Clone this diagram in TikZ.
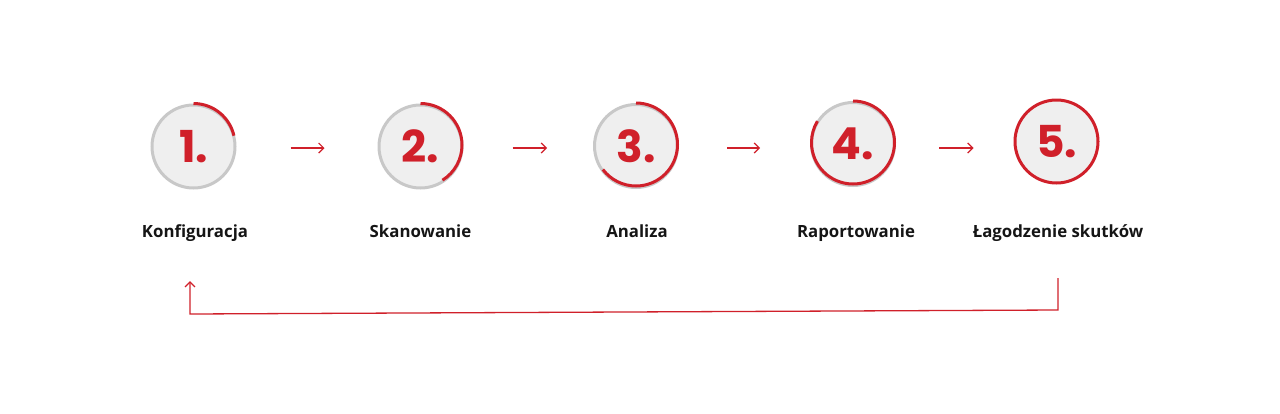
\documentclass[tikz,border=0pt]{standalone}
\usepackage{fontspec}
\setmainfont{Open Sans}
\newfontfamily\numfont{Poppins}[BoldFont=* Bold]
\usetikzlibrary{arrows.meta,calc}
\definecolor{accred}{HTML}{D0202A}
\definecolor{ringgray}{HTML}{C8C8C8}
\definecolor{fillgray}{HTML}{EFEFEF}
\definecolor{txt}{HTML}{151515}
\begin{document}
\begin{tikzpicture}[x=1pt,y=-1pt,
  stepcircle/.style={circle,draw=ringgray,fill=fillgray,line width=3pt,minimum size=83pt,inner sep=0pt,
    font=\numfont\bfseries\fontsize{44}{44}\selectfont,text=accred},
  progress/.style={draw=accred,line width=3pt},
  steplabel/.style={anchor=base,font=\bfseries\fontsize{16.8}{18}\selectfont,text=txt,inner sep=0pt},
  arr/.style={draw=accred,line width=1.2pt,-{Straight Barb[length=5pt,width=10pt,line width=1.2pt]}}]
\useasboundingbox (0,0) rectangle (1280,413);
% circles
\node[stepcircle] (c1) at (193.5,146.5) {1.};
\node[stepcircle] (c2) at (420.5,146.5) {2.};
\node[stepcircle] (c3) at (636,146) {3.};
\node[stepcircle] (c4) at (853,144) {4.};
\node[stepcircle,draw=accred] (c5) at (1056.5,141.5) {5.};
% progress arcs
\draw[progress] (c1.north) arc[start angle=90,end angle=13,radius=41.5pt];
\draw[progress] (c2.north) arc[start angle=90,end angle=-58,radius=41.5pt];
\draw[progress] (c3.north) arc[start angle=90,end angle=-143,radius=41.5pt];
\draw[progress] (c4.north) arc[start angle=90,end angle=-211,radius=41.5pt];
% labels
\node[steplabel] (l1) at (195,237.5) {Konfiguracja};
\node[steplabel] (l2) at (420.5,237.5) {Skanowanie};
\node[steplabel] (l3) at (637,237.5) {Analiza};
\node[steplabel] (l4) at (856,237.5) {Raportowanie};
\node[steplabel] (l5) at (1058,237.5) {Łagodzenie skutków};
% arrows (all on one horizontal line)
\coordinate (arrow line) at (0,148);
\draw[arr] ([xshift=54pt]c1.east |- arrow line) -- ([xshift=-53pt]c2.west |- arrow line);
\draw[arr] ([xshift=49pt]c2.east |- arrow line) -- ([xshift=-46pt]c3.west |- arrow line);
\draw[arr] ([xshift=48pt]c3.east |- arrow line) -- ([xshift=-50pt]c4.west |- arrow line);
\draw[arr] ([xshift=43pt]c4.east |- arrow line) -- ([xshift=-40pt]c5.west |- arrow line);
% feedback loop
\coordinate (fb1) at (1058,278);
\coordinate (fb2) at (1058,310);
\coordinate (fb3) at (190,314);
\coordinate (fb4) at (190,281);
\draw[draw=accred,line width=1.3pt,-{Straight Barb[length=5pt,width=10pt,line width=1.3pt]}]
  (fb1) -- (fb2) -- (fb3) -- (fb4);
\end{tikzpicture}
\end{document}
